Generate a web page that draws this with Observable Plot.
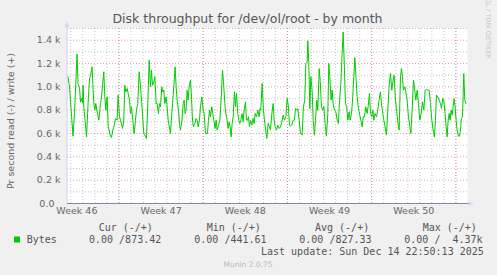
<!DOCTYPE html>
<html><head><meta charset="utf-8">
<script src="https://cdn.jsdelivr.net/npm/d3@7"></script>
<script src="https://cdn.jsdelivr.net/npm/@observablehq/plot@0.6"></script>
<style>
html,body{margin:0;padding:0;background:#F0F0F0;}
#wrap{width:497px;height:275px;overflow:hidden;background:#F0F0F0;}
</style></head><body><div id="wrap"></div>
<script>
// ---- data (hours since window start, bytes per second written) ----
const startTime = Date.UTC(2025, 10, 11, 17, 18);
const endTime = Date.UTC(2025, 11, 14, 23, 6);
const hours = [1,4,11,14,19,21,24,26,28,30,31,32.5,35,38,41,44,46,49,50.5,52.5,
54.5,56.5,58.4,62.5,65.8,67.1,72.4,74.4,76.5,77.8,79.1,81.1,83.1,85.7,87.7,90.4,92.4,95.7,99.0,101.0,
103.7,105.7,109.7,112.3,114.3,116.3,119.0,121.0,123.6,125.6,127.6,130.2,133.0,135.6,137.6,140.2,142.9,145.6,148.2,152.2,
156.2,157.5,160.2,162.9,165.5,167.5,169.5,172.2,174.2,176.8,178.8,181.4,183.4,185.4,188.1,190.1,192.1,194.1,196.7,198.7,
200.8,205.4,208.0,212.0,214.7,216.7,218.7,221.3,223.3,225.3,228.0,230.7,232.7,234.6,236.6,238.6,240.6,242.7,245.3,247.3,
249.3,251.2,253.9,256.6,258.6,260.6,263.2,265.2,267.8,270.6,272.6,275.2,279.2,281.1,283.2,285.2,287.8,289.8,291.8,294.4,
296.5,298.5,301.1,303.8,306.4,309.1,311.1,313.8,315.8,318.4,320.4,322.4,324.4,326.4,328.4,330.4,333.0,335.0,337.0,339.7,
341.7,343.7,345.7,348.3,350.3,352.4,355.0,357.0,359.0,360.9,363.0,365.0,367.6,370.3,372.3,374.3,376.9,379.6,382.3,384.2,
385.6,388.2,390.8,393.6,396.2,397.5,400.2,402.8,404.8,407.6,410.2,412.2,
414.1,416.8,419.4,422.2,424.8,427.4,430.1,432.7,435.5,438.1,440.7,442.7,445.4,447.3,450.1,452.7,454.7,456.7,459.3,462.1,
464.7,468.0,470.6,473.3,475.4,478.0,479.3,481.3,483.3,485.3,487.9,490.0,492.6,494.6,497.2,499.2,502.0,503.9,506.6,509.2,
511.2,513.8,516.5,519.2,521.2,523.2,525.8,527.8,529.8,532.5,535.2,537.8,540.4,542.4,545.2,547.8,549.8,551.8,554.4,557.0,
559.1,561.8,563.7,566.4,568.4,571.0,573.1,575.7,577.7,580.3,583.0,585.0,587.7,589.7,592.3,595.0,597.6,599.6,602.3,604.3,
607.0,608.9,610.9,613.5,616.3,618.9,620.9,624.2,626.2,628.9,630.9,633.5,636.2,638.8,641.6,644.2,646.8,649.5,651.5,654.1,
656.2,658.8,661.5,664.1,666.1,668.1,670.1,672.8,674.8,677.4,680.0,682.8,684.8,687.4,690.0,692.0,694.7,697.4,700.0,702.7,
705.3,708.0,710.7,713.3,716.0,718.6,721.3,724.0,726.6,729.3,731.9,733.9,735.9,738.6,741.3,743.9,745.9,748.5,750.5,753.2,
755.2,757.2,759.2,761.2,763.1,765.1,767.2,769.2,771.2,773.1,775.1,777.1,779.8,781.8,783.8,785.8,787.8,790.4,792.4,794.5];
const bytes = [1086,1000,577,771,1280,1029,986,871,900,863,1014,829,714,571,857,1071,1100,1171,1029,857,
800,857,800,714,857,886,1129,914,800,871,914,657,629,577,566,629,657,729,714,929,
743,714,643,714,1014,957,986,943,886,771,829,714,600,714,800,857,1129,1000,857,600,
571,557,857,1229,1000,1143,1014,1043,1086,857,857,771,857,829,1000,957,971,857,914,829,
714,600,771,1000,1171,1000,886,800,686,629,700,857,886,771,800,971,886,1000,1057,914,
714,657,686,729,714,657,714,829,914,800,771,600,600,714,800,743,829,771,714,643,
714,629,671,714,886,1143,1043,857,771,714,643,700,657,571,686,743,957,829,943,771,
714,686,714,771,700,800,871,714,714,743,657,714,671,729,686,771,743,800,743,814,
800,1029,800,686,600,557,686,657,629,771,857,714,
657,629,671,643,657,700,757,714,743,900,829,671,663,671,714,714,814,800,814,714,
600,586,829,886,1200,1214,1394,1200,814,1086,971,714,586,714,886,800,1157,1057,829,800,
829,686,577,771,1200,1086,886,971,857,800,786,714,686,871,1029,1286,1471,1229,857,829,
714,786,714,771,871,1086,1251,1057,914,814,757,714,657,743,743,829,771,829,943,771,
743,800,714,771,743,800,871,957,857,771,714,657,586,800,1014,1114,971,1057,1100,886,
800,700,629,1086,1157,1086,971,1000,957,886,743,657,600,800,1057,1000,886,971,857,714,
771,871,800,971,977,971,971,857,714,629,571,714,929,914,886,857,814,900,886,771,
657,571,714,771,714,800,757,829,900,829,714,629,577,577,629,729,743,1114,886,857];

// ---- ticks & labels ----
const yMajor = [0, 200, 400, 600, 800, 1000, 1200, 1400];
const yMinor = [100, 300, 500, 700, 900, 1100, 1300, 1500];
const weekStarts = ["2025-11-16", "2025-11-23", "2025-11-30", "2025-12-07", "2025-12-14"];
const weekLabelTimes = ["2025-11-12T12:00Z", "2025-11-19T12:00Z", "2025-11-26T12:00Z", "2025-12-03T12:00Z", "2025-12-10T12:00Z"];
const weekLabels = ["Week 46", "Week 47", "Week 48", "Week 49", "Week 50"];
const titleText = "Disk throughput for /dev/ol/root - by month";
const yTitle = "Pr second read (-) / write (+)";
const seriesName = "Bytes";
const seriesColor = "#00CC00";
const legendHeaders = ["Cur (-/+)", "Min (-/+)", "Avg (-/+)", "Max (-/+)"];
const legendValues = ["0.00 /873.42", "0.00 /441.61", "0.00 /827.33", "0.00 /  4.37k"];
const lastUpdate = "Last update: Sun Dec 14 22:50:13 2025";
const footer = "Munin 2.0.75";
const watermark = "RRDTOOL / TOBI OETIKER";

const data = hours.map((h, i) => ({date: new Date(startTime + h * 3600e3), value: bytes[i]}));
const weekStartDates = weekStarts.map(s => new Date(s + "T00:00Z"));
const labelDates = weekLabelTimes.map(s => new Date(s));
const labelMap = new Map(labelDates.map((d, i) => [+d, weekLabels[i]]));
const dayLines = d3.utcDay.range(new Date(startTime), new Date(endTime));

const minorColor = "rgba(150,150,150,0.55)";
const majorColor = "rgba(225,90,90,0.55)";

const plot = Plot.plot({
  width: 497, height: 275,
  marginLeft: 67, marginRight: 30, marginTop: 28, marginBottom: 72,
  style: {background: "#F0F0F0", fontFamily: "DejaVu Sans", fontSize: "9.5px", color: "#666", overflow: "visible"},
  x: {type: "utc", domain: [new Date(startTime), new Date(endTime)], label: null},
  y: {domain: [0, 1500], label: null},
  marks: [
    Plot.frame({fill: "#FFFFFF", stroke: null}),
    Plot.ruleY(yMinor, {stroke: minorColor, strokeDasharray: "1,2"}),
    Plot.ruleX(dayLines, {stroke: minorColor, strokeDasharray: "1,2"}),
    Plot.ruleY(yMajor, {stroke: majorColor, strokeDasharray: "1,2"}),
    Plot.ruleX(weekStartDates, {stroke: majorColor, strokeDasharray: "1,2"}),
    Plot.axisY(yMajor, {tickSize: 0, tickPadding: 7, label: null,
      tickFormat: d => d === 0 ? "0.0\u00A0\u00A0" : (d / 1000).toFixed(1) + " k"}),
    Plot.axisX(labelDates, {tickSize: 0, tickPadding: 4, label: null, tickFormat: d => labelMap.get(+d)}),
    Plot.line(data, {x: "date", y: "value", stroke: seriesColor, strokeWidth: 1})
  ]
});
document.getElementById("wrap").appendChild(plot);

const svg = d3.select(plot);
const xs = plot.scale("x"), ys = plot.scale("y");
const x0 = xs.apply(new Date(startTime)), x1 = xs.apply(new Date(endTime));
const yb = ys.apply(0), yt = ys.apply(1500);
const axisColor = "#CFD6F8";
// axes with arrows
svg.append("line").attr("x1", x0).attr("x2", x0).attr("y1", yb).attr("y2", yt - 2).attr("stroke", axisColor);
svg.append("polygon").attr("points", `${x0-2.5},${yt-1} ${x0+2.5},${yt-1} ${x0},${yt-6.5}`).attr("fill", axisColor);
svg.append("line").attr("x1", x0).attr("x2", x1 + 2).attr("y1", yb + 0.5).attr("y2", yb + 0.5).attr("stroke", "#8585A5");
svg.append("polygon").attr("points", `${x1+1.5},${yb-2} ${x1+1.5},${yb+3} ${x1+6.5},${yb+0.5}`).attr("fill", axisColor);

// texts
svg.append("text").attr("x", 247.5).attr("y", 22.5).attr("text-anchor", "middle")
  .attr("font-size", "12.5px").attr("fill", "#555").text(titleText);
svg.append("text").attr("transform", "translate(13.5,121) rotate(-90)").attr("text-anchor", "middle")
  .attr("font-size", "9.5px").attr("fill", "#666").text(yTitle);
svg.append("text").attr("x", 487.5).attr("y", 17).style("writing-mode", "vertical-rl")
  .attr("font-size", "6.5px").attr("fill", "#C8C8C8").text(watermark);

const mono = {"font-family": "DejaVu Sans Mono", "font-size": "10px", "fill": "#555"};
function mtext(x, y, s, anchor) {
  const t = svg.append("text").attr("x", x).attr("y", y).style("white-space", "pre").attr("xml:space", "preserve")
    .attr("text-anchor", anchor || "start").text(s);
  for (const k in mono) t.attr(k, mono[k]);
  return t;
}
const headX = [98.7, 206.7, 315, 422.7];
const valX = [89, 194.3, 299.3, 404.3];
legendHeaders.forEach((h, i) => mtext(headX[i], 231, h));
svg.append("rect").attr("x", 14).attr("y", 236.5).attr("width", 6).attr("height", 6).attr("fill", seriesColor);
mtext(26.7, 242.7, seriesName);
legendValues.forEach((v, i) => mtext(valX[i], 242.7, v));
mtext(261, 255, lastUpdate);
svg.append("text").attr("x", 248).attr("y", 267).attr("text-anchor", "middle")
  .attr("font-size", "7.5px").attr("fill", "#BBBBBB").text(footer);
</script></body></html>
